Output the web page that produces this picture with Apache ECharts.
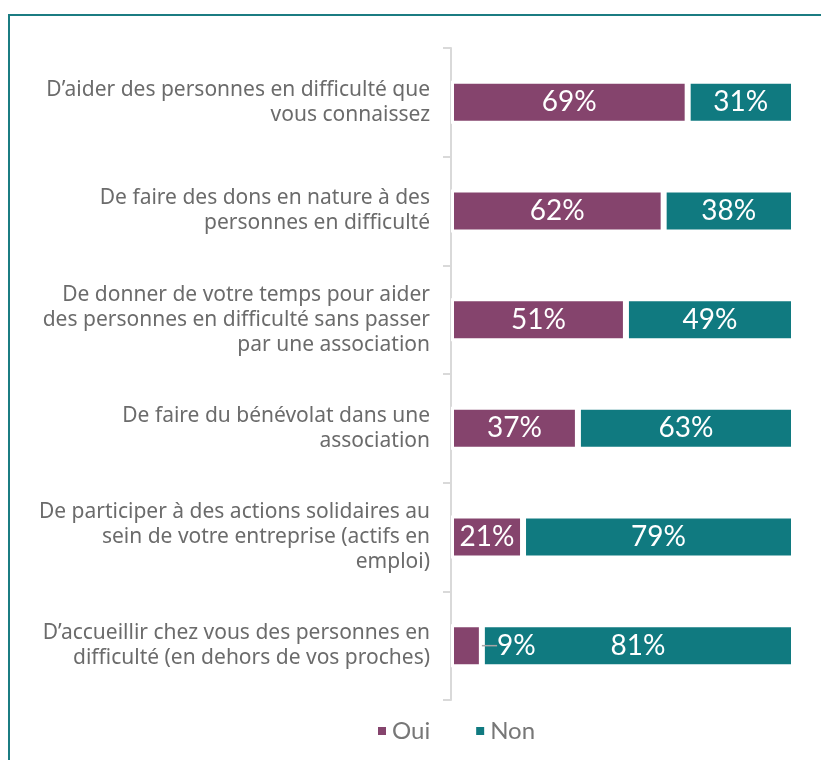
<!DOCTYPE html>
<html>
<head>
<meta charset="utf-8">
<script src="https://cdn.jsdelivr.net/npm/echarts@6/dist/echarts.min.js"></script>
<style>
  html, body { margin: 0; padding: 0; background: #fff; }
  #chart { width: 821px; height: 760px; }
</style>
</head>
<body>
<div id="chart"></div>
<script>
// libellés des questions (de haut en bas)
var categories = [
    'D\u2019aider des personnes en difficulté que\nvous connaissez',
    'De faire des dons en nature à des\npersonnes en difficulté',
    'De donner de votre temps pour aider\ndes personnes en difficulté sans passer\npar une association',
    'De faire du bénévolat dans une\nassociation',
    'De participer à des actions solidaires au\nsein de votre entreprise (actifs en\nemploi)',
    'D\u2019accueillir chez vous des personnes en\ndifficulté (en dehors de vos proches)'
];
var ouiValues = [69, 62, 51, 37, 21, 9];
var nonValues = [31, 38, 49, 63, 79, 91];
// textes affichés (le dernier est écrit 81% sur l'original)
var ouiLabels = ['69%', '62%', '51%', '37%', '21%', '9%'];
var nonLabels = ['31%', '38%', '49%', '63%', '79%', '81%'];

var FONT = 'Lato, "Open Sans", sans-serif';
var myChart = echarts.init(document.getElementById('chart'));

var barLabel = function (texts) {
    return {
        show: true,
        position: 'inside',
        color: '#fff',
        fontSize: 28,
        fontFamily: FONT,
        formatter: function (p) { return texts[p.dataIndex]; }
    };
};

option = {
    backgroundColor: '#fff',
    animation: false,
    graphic: [{
        type: 'rect',
        shape: { x: 9, y: 15, width: 900, height: 900 },
        style: { fill: 'none', stroke: '#1b7c82', lineWidth: 2 },
        silent: true
    }],
    legend: {
        left: 371,
        top: 714,
        itemWidth: 10,
        itemHeight: 10,
        itemGap: 44,
        icon: 'rect',
        textStyle: { color: '#777', fontSize: 24, fontFamily: FONT },
        data: ['Oui', 'Non']
    },
    grid: { left: 451, right: 27, top: 48, bottom: 60, containLabel: false },
    xAxis: { type: 'value', min: 0, max: 100, show: false },
    yAxis: {
        type: 'category',
        inverse: true,
        data: categories,
        axisLine: { lineStyle: { color: '#d9d9d9', width: 2 } },
        axisTick: { show: true, length: 8, lineStyle: { color: '#d9d9d9', width: 2 } },
        axisLabel: {
            margin: 21,
            color: '#6b6b6b',
            fontSize: 21,
            lineHeight: 25,
            fontFamily: '"Noto Sans", sans-serif',
            align: 'right'
        }
    },
    series: [
        {
            name: 'Oui',
            type: 'bar',
            stack: 'total',
            z: 4,
            barWidth: 43,
            data: ouiValues,
            itemStyle: { color: '#85446d', borderColor: '#fff', borderWidth: 3 },
            label: barLabel(ouiLabels),
            labelLine: { show: true, lineStyle: { color: '#a6a6a6', width: 1.5 } },
            labelLayout: function (p) {
                if (p.dataIndex === 5) {
                    return { dx: 50 };
                }
            }
        },
        {
            name: 'Non',
            type: 'bar',
            stack: 'total',
            z: 2,
            barWidth: 43,
            data: nonValues,
            itemStyle: { color: '#107a80', borderColor: '#fff', borderWidth: 3 },
            label: barLabel(nonLabels)
        }
    ]
};
myChart.setOption(option);
</script>
</body>
</html>
